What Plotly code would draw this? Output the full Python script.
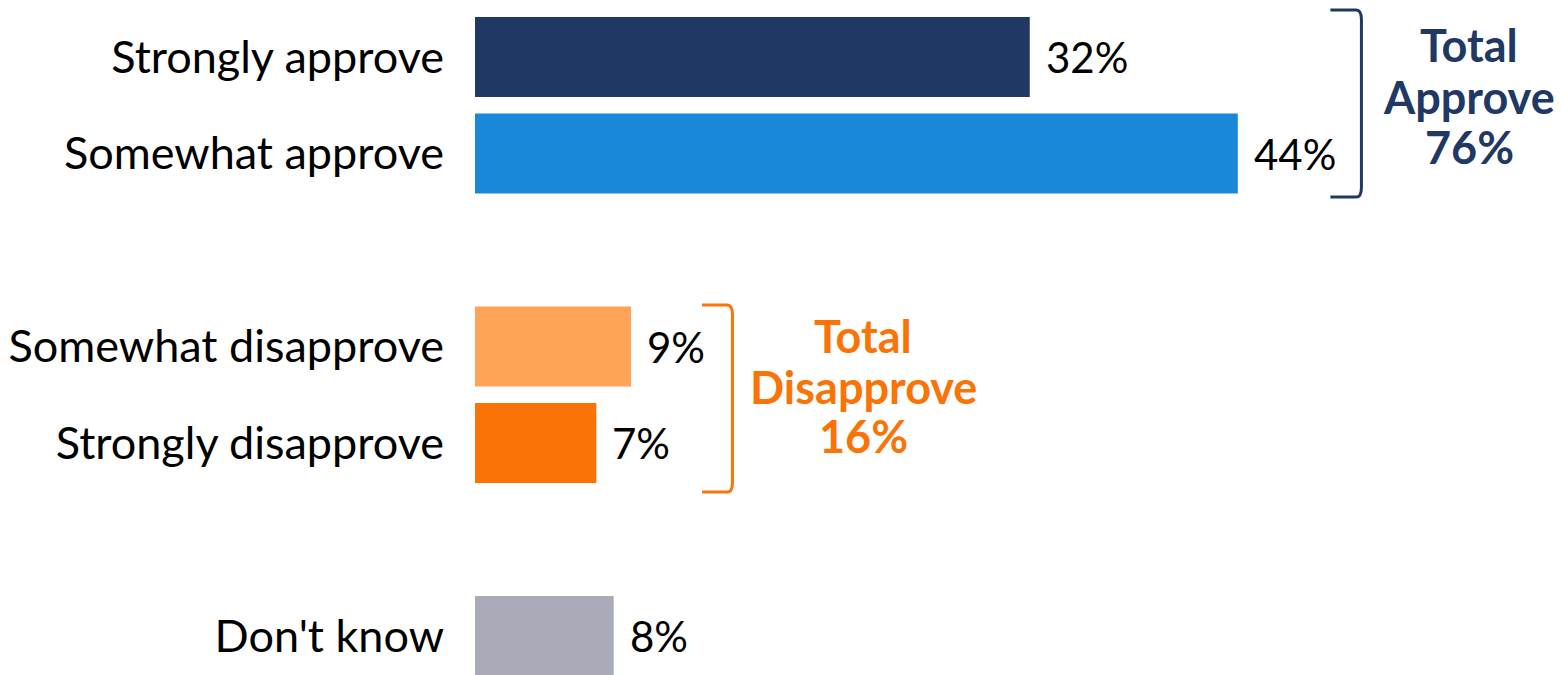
import plotly.graph_objects as go

categories = ["Strongly approve", "Somewhat approve", "Somewhat disapprove", "Strongly disapprove", "Don't know"]
positions = [0, 1, 3, 4, 6]
values = [32, 44, 9, 7, 8]
value_labels = ["32%", "44%", "9%", "7%", "8%"]
colors = ["#1F3864", "#1A88D8", "#FDA459", "#F97306", "#A9ABB8"]

approve_lines = ["Total", "Approve", "76%"]
disapprove_lines = ["Total", "Disapprove", "16%"]
group_colors = ["#1F3864", "#F97306"]

FONT = "Lato"
FS = 45

fig = go.Figure()
fig.add_trace(go.Bar(
    x=values, y=positions, orientation="h",
    marker=dict(color=colors, line=dict(width=0)),
    width=0.83, hoverinfo="skip",
))

for v, p, t in zip(values, positions, value_labels):
    fig.add_annotation(x=v, y=p, text=t, showarrow=False, xanchor="left", yanchor="middle",
                       xshift=14, font=dict(family=FONT, size=42, color="#000000"))

# brackets
def bracket(x0, x1, y0, y1, color):
    r = 0.1
    path = (f"M {x0},{y0} L {x1-0.3},{y0} Q {x1},{y0} {x1},{y0+r} "
            f"L {x1},{y1-r} Q {x1},{y1} {x1-0.3},{y1} L {x0},{y1}")
    fig.add_shape(type="path", path=path, line=dict(color=color, width=3), xref="x", yref="y")

bracket(49.34, 51.13, -0.487, 1.451, group_colors[0])
bracket(13.1, 14.85, 2.57, 4.508, group_colors[1])

for txt, yy in zip(approve_lines, [-0.124, 0.415, 0.933]):
    fig.add_annotation(x=57.36, y=yy, text=txt, showarrow=False, xanchor="center", yanchor="middle",
                       font=dict(family=FONT, size=FS, color=group_colors[0], weight="bold"))
for txt, yy in zip(disapprove_lines, [2.891, 3.420, 3.927]):
    fig.add_annotation(x=22.4, y=yy, text=txt, showarrow=False, xanchor="center", yanchor="middle",
                       font=dict(family=FONT, size=FS, color=group_colors[1], weight="bold"))

fig.update_layout(
    width=1562, height=675,
    margin=dict(l=475, r=0, t=0, b=0),
    paper_bgcolor="white", plot_bgcolor="white",
    showlegend=False,
    xaxis=dict(range=[0, 62.7], visible=False, fixedrange=True),
    yaxis=dict(range=[6.404, -0.591], tickvals=positions, ticktext=categories,
               showgrid=False, zeroline=False, showline=False, ticks="",
               ticklabelstandoff=30,
               tickfont=dict(family=FONT, size=FS, color="#000000")),
)

fig.write_html("out.html")
